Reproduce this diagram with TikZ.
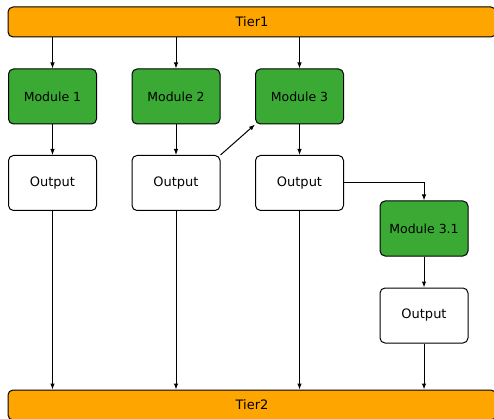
\documentclass[tikz,border=0pt]{standalone}
\usepackage{fontspec}
\setmainfont{DejaVu Sans}
\usetikzlibrary{arrows.meta}

\definecolor{tierorange}{HTML}{FFA500}
\definecolor{modgreen}{HTML}{3AAA35}

\tikzset{
    tier/.style={draw, fill=tierorange, rounded corners=5pt, minimum width=488pt,
        minimum height=30pt, inner sep=0pt, font=\fontsize{13}{15}\selectfont},
    module/.style={draw, fill=modgreen, rounded corners=5pt, minimum width=88pt,
        minimum height=55pt, inner sep=0pt, font=\fontsize{12.5}{15}\selectfont},
    output/.style={module, fill=white, font=\fontsize{13}{15}\selectfont},
    link/.style={-{Latex[length=6pt,width=4.5pt]}}
}

\begin{document}
\begin{tikzpicture}[x=1pt,y=-1pt,line width=1pt]
        \useasboundingbox (0,0) rectangle (494,419);

        \node[tier] (tier1) at (252,22) {Tier1};
        \node[tier] (tier2) at (252,405) {Tier2};

        \node[module] (mod1) at (52.5,96.5) {Module 1};
        \node[module] (mod2) at (176,96.5) {Module 2};
        \node[module] (mod3) at (299.5,96.5) {Module 3};
        \node[module] (mod31) at (424,228.5) {Module 3.1};

        \node[output] (out1) at (52.5,183) {Output};
        \node[output] (out2) at (176,183) {Output};
        \node[output] (out3) at (299.5,183) {Output};
        \node[output] (out31) at (424,315.5) {Output};

        \foreach \m in {mod1,mod2,mod3}
            \draw[link] (\m |- tier1.south) -- (\m);
        \foreach \m/\o in {mod1/out1,mod2/out2,mod3/out3,mod31/out31}
            \draw[link] (\m) -- (\o);
        \foreach \o in {out1,out2,out3,out31}
            \draw[link] (\o) -- (\o |- tier2.north);

        \draw[link] (out2.north east) -- (mod3.south west);
        \draw[link] (out3.east) -| (mod31.north);
\end{tikzpicture}
\end{document}
